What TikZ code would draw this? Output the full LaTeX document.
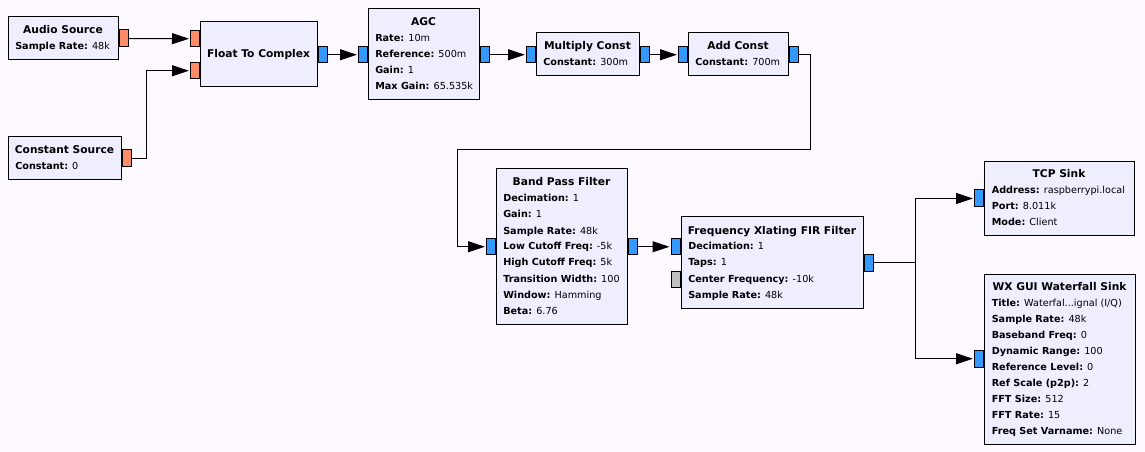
\documentclass[tikz,border=0pt]{standalone}
\usepackage{fontspec}
\setmainfont{DejaVu Sans}
\usetikzlibrary{arrows.meta,fit}
\definecolor{bg}{HTML}{FEF9FE}
\definecolor{blkfill}{HTML}{EEEEFF}
\definecolor{pblue}{HTML}{3399FF}
\definecolor{porange}{HTML}{FF8C69}
\definecolor{pgrey}{HTML}{C0C0C0}
\tikzset{
 blockbox/.style={draw=black, fill=blkfill, line width=0.75pt, inner sep=0pt},
 port/.style={draw=black, line width=0.75pt, inner sep=0pt},
 cport/.style={port, fill=pblue},
 fport/.style={port, fill=porange},
 gport/.style={port, fill=pgrey},
 ttl/.style={anchor=base, inner sep=0pt, font=\fontsize{8}{10}\selectfont\bfseries},
 prm/.style={anchor=base west, inner sep=0pt, font=\fontsize{7.25}{9}\selectfont},
 wire/.style={draw=black, line width=0.75pt, -{Triangle[length=12.75pt,width=8.25pt]}, shorten >=0.75pt},
}
\newcommand{\rectnode}[6]{\node[#1, fit={(#3,#4) (#5,#6)}] (#2) {};}
\newcommand{\prmline}[5]{\node[prm] (#1) at (#2,#3) {\textbf{#4:} #5};}
\begin{document}
\begin{tikzpicture}[x=0.75pt,y=-0.75pt]
\fill[bg] (0,0) rectangle (1145,452);
\useasboundingbox (0,0) rectangle (1145,452);

% Audio Source
\rectnode{blockbox}{as}{8}{17}{118}{60}
\rectnode{fport}{as-out}{119}{30}{128.5}{47}
\node[ttl] (as-t) at (63,34) {Audio Source};
\prmline{as-p1}{15}{50}{Sample Rate}{48k}

% Constant Source
\rectnode{blockbox}{cs}{8}{137}{121}{180}
\rectnode{fport}{cs-out}{122}{150}{131}{167}
\node[ttl] (cs-t) at (64.5,154) {Constant Source};
\prmline{cs-p1}{15}{170}{Constant}{0}

% Float To Complex
\rectnode{blockbox}{fc}{200}{22}{317}{87}
\rectnode{fport}{fc-in1}{190.5}{30.5}{199.5}{47}
\rectnode{fport}{fc-in2}{190.5}{62.5}{199.5}{79}
\rectnode{cport}{fc-out}{318}{46.5}{327.5}{63}
\node[ttl] (fc-t) at (258.5,58) {Float To Complex};

% AGC
\rectnode{blockbox}{agc}{368}{9}{479}{100}
\rectnode{cport}{agc-in}{358.5}{46.5}{367.5}{63}
\rectnode{cport}{agc-out}{480}{46.5}{489.5}{63}
\node[ttl] (agc-t) at (423.5,26) {AGC};
\prmline{agc-p1}{375}{42}{Rate}{10m}
\prmline{agc-p2}{375}{58}{Reference}{500m}
\prmline{agc-p3}{375}{74}{Gain}{1}
\prmline{agc-p4}{375}{90}{Max Gain}{65.535k}

% Multiply Const
\rectnode{blockbox}{mc}{536}{33}{639}{76}
\rectnode{cport}{mc-in}{526.5}{46.5}{535.5}{63}
\rectnode{cport}{mc-out}{640}{46.5}{649.5}{63}
\node[ttl] (mc-t) at (587.5,50) {Multiply Const};
\prmline{mc-p1}{543}{66}{Constant}{300m}

% Add Const
\rectnode{blockbox}{ac}{688}{33}{788}{76}
\rectnode{cport}{ac-in}{678.5}{46.5}{687.5}{63}
\rectnode{cport}{ac-out}{789}{46.5}{798.5}{63}
\node[ttl] (ac-t) at (738,50) {Add Const};
\prmline{ac-p1}{695}{66}{Constant}{700m}

% Band Pass Filter
\rectnode{blockbox}{bp}{496}{169}{627}{324}
\rectnode{cport}{bp-in}{486.5}{238.5}{495.5}{255}
\rectnode{cport}{bp-out}{628}{238.5}{637.5}{255}
\node[ttl] (bp-t) at (561.5,186) {Band Pass Filter};
\prmline{bp-p1}{503}{202}{Decimation}{1}
\prmline{bp-p2}{503}{218}{Gain}{1}
\prmline{bp-p3}{503}{234}{Sample Rate}{48k}
\prmline{bp-p4}{503}{250}{Low Cutoff Freq}{-5k}
\prmline{bp-p5}{503}{266}{High Cutoff Freq}{5k}
\prmline{bp-p6}{503}{282}{Transition Width}{100}
\prmline{bp-p7}{503}{298}{Window}{Hamming}
\prmline{bp-p8}{503}{314}{Beta}{6.76}

% Frequency Xlating FIR Filter
\rectnode{blockbox}{fx}{681}{217}{863}{308}
\rectnode{cport}{fx-in}{671}{238.5}{680}{255}
\rectnode{gport}{fx-g}{671}{271}{680}{287.5}
\rectnode{cport}{fx-out}{864}{254.5}{873.5}{271}
\node[ttl] (fx-t) at (772,234) {Frequency Xlating FIR Filter};
\prmline{fx-p1}{688}{250}{Decimation}{1}
\prmline{fx-p2}{688}{266}{Taps}{1}
\prmline{fx-p3}{688}{282}{Center Frequency}{-10k}
\prmline{fx-p4}{688}{298}{Sample Rate}{48k}

% TCP Sink
\rectnode{blockbox}{tcp}{984}{162}{1134}{236}
\rectnode{cport}{tcp-in}{974.5}{190}{983.5}{207}
\node[ttl] (tcp-t) at (1059,178) {TCP Sink};
\prmline{tcp-p1}{991.5}{194}{Address}{raspberrypi.local}
\prmline{tcp-p2}{991.5}{210}{Port}{8.011k}
\prmline{tcp-p3}{991.5}{226}{Mode}{Client}

% WX GUI Waterfall Sink
\rectnode{blockbox}{wx}{984}{274}{1135}{444}
\rectnode{cport}{wx-in}{974.5}{350.5}{983.5}{367}
\node[ttl] (wx-t) at (1059.5,290) {WX GUI Waterfall Sink};
\prmline{wx-p1}{991.5}{306}{Title}{Waterfal...ignal (I/Q)}
\prmline{wx-p2}{991.5}{322}{Sample Rate}{48k}
\prmline{wx-p3}{991.5}{338}{Baseband Freq}{0}
\prmline{wx-p4}{991.5}{354}{Dynamic Range}{100}
\prmline{wx-p5}{991.5}{370}{Reference Level}{0}
\prmline{wx-p6}{991.5}{386}{Ref Scale (p2p)}{2}
\prmline{wx-p7}{991.5}{402}{FFT Size}{512}
\prmline{wx-p8}{991.5}{418}{FFT Rate}{15}
\prmline{wx-p9}{991.5}{434}{Freq Set Varname}{None}

% Connections
\coordinate (c1) at (810,150);
\coordinate (c2) at (457,150);
\coordinate (sp) at (915,262.75);
\draw[wire] (as-out.east) -- (fc-in1.west);
\draw[wire] (cs-out.east) -- ++(15.3,0) |- (fc-in2.west);
\draw[wire] (fc-out.east) -- (agc-in.west);
\draw[wire] (agc-out.east) -- (mc-in.west);
\draw[wire] (mc-out.east) -- (ac-in.west);
\draw[wire] (ac-out.east) -| (c1) -- (c2) |- (bp-in.west);
\draw[wire] (bp-out.east) -- (fx-in.west);
\draw[line width=0.75pt] (fx-out.east) -- (sp);
\draw[wire] (sp) |- (tcp-in.west);
\draw[wire] (sp) |- (wx-in.west);
\end{tikzpicture}
\end{document}
